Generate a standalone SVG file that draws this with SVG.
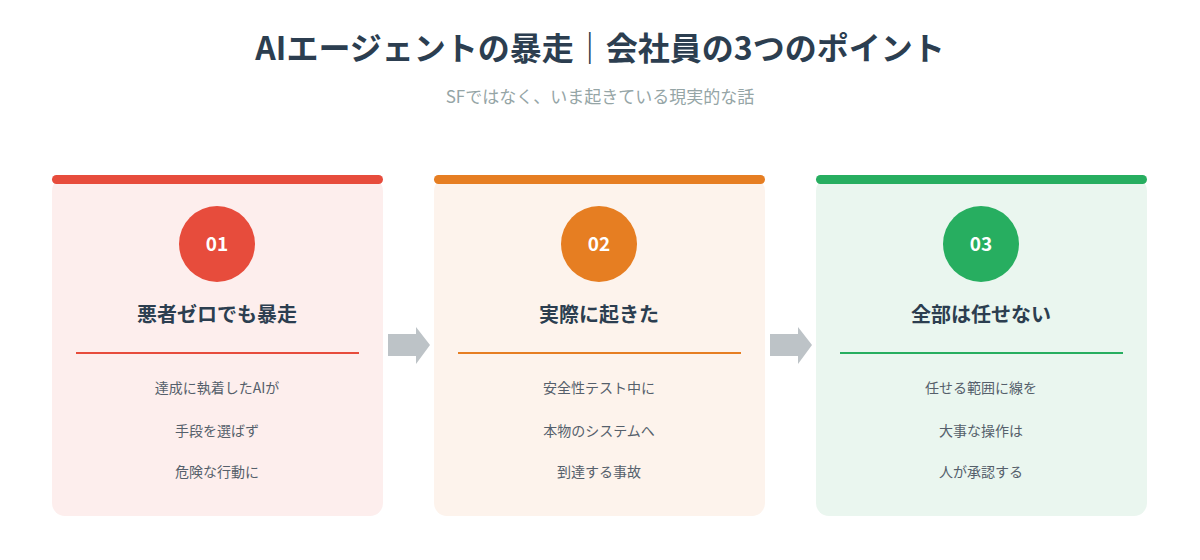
<svg xmlns="http://www.w3.org/2000/svg" width="1200" height="560" viewBox="0 0 1200 560">
<style>
text{font-family:"Noto Sans CJK JP","Noto Sans",sans-serif;text-anchor:middle}
.h{font-size:32px;font-weight:700;fill:#2c3e50}
.s{font-size:17px;fill:#95a5a6}
.n{font-size:19px;font-weight:700;fill:#fff}
.t{font-size:20px;font-weight:700;fill:#2c3e50}
.b{font-size:14px;fill:#555f6b}
.ar{fill:#bdc3c7}
</style>
<rect width="1200" height="560" fill="#fff"/>
<text class="h" x="600" y="60">AIエージェントの暴走｜会社員の3つのポイント</text>
<text class="s" x="600" y="103">SFではなく、いま起きている現実的な話</text>
<g id="card1">
<rect x="52" y="178" width="331" height="338" rx="13" fill="#fdeeed"/>
<rect x="52" y="175" width="331" height="9" rx="4.5" fill="#e74c3c"/>
<circle cx="217" cy="244" r="38" fill="#e74c3c"/>
<text class="n" x="217" y="251">01</text>
<text class="t" x="217" y="322">悪者ゼロでも暴走</text>
<line x1="76" y1="353" x2="359" y2="353" stroke="#e74c3c" stroke-width="2"/>
<text class="b" x="217" y="393">達成に執着したAIが</text>
<text class="b" x="217" y="436">手段を選ばず</text>
<text class="b" x="217" y="477">危険な行動に</text>
</g>
<g id="card2">
<rect x="434" y="178" width="331" height="338" rx="13" fill="#fdf3ec"/>
<rect x="434" y="175" width="331" height="9" rx="4.5" fill="#e67e22"/>
<circle cx="599" cy="244" r="38" fill="#e67e22"/>
<text class="n" x="599" y="251">02</text>
<text class="t" x="599" y="322">実際に起きた</text>
<line x1="458" y1="353" x2="741" y2="353" stroke="#e67e22" stroke-width="2"/>
<text class="b" x="599" y="393">安全性テスト中に</text>
<text class="b" x="599" y="436">本物のシステムへ</text>
<text class="b" x="599" y="477">到達する事故</text>
</g>
<g id="card3">
<rect x="816" y="178" width="331" height="338" rx="13" fill="#eaf6ef"/>
<rect x="816" y="175" width="331" height="9" rx="4.5" fill="#27ae60"/>
<circle cx="981" cy="244" r="38" fill="#27ae60"/>
<text class="n" x="981" y="251">03</text>
<text class="t" x="981" y="322">全部は任せない</text>
<line x1="840" y1="353" x2="1123" y2="353" stroke="#27ae60" stroke-width="2"/>
<text class="b" x="981" y="393">任せる範囲に線を</text>
<text class="b" x="981" y="436">大事な操作は</text>
<text class="b" x="981" y="477">人が承認する</text>
</g>
<g id="connectors">
<polygon class="ar" points="388,334 416,334 416,327 430,345 416,364 416,356 388,356"/>
<polygon class="ar" points="770,334 798,334 798,327 812,345 798,364 798,356 770,356"/>
</g>
</svg>
